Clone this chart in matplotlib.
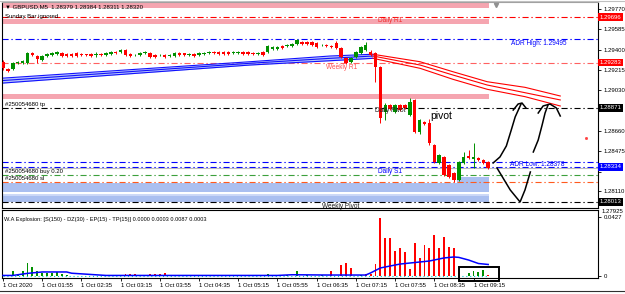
import matplotlib
matplotlib.use("Agg")
import matplotlib.pyplot as plt
from matplotlib.patches import Rectangle
from matplotlib.lines import Line2D

plt.rcParams['font.family'] = ['Liberation Sans', 'DejaVu Sans']

# GBPUSD M5 candles, first bar 01:15, bar index 0..99
opens = [1.29288, 1.29224, 1.29224, 1.29278, 1.29278, 1.29278, 1.29369, 1.29342, 1.29306, 1.29342,
         1.29351, 1.29360, 1.29369, 1.29360, 1.29360, 1.29369, 1.29360, 1.29360, 1.29360, 1.29351,
         1.29360, 1.29351, 1.29360, 1.29379, 1.29379, 1.29397, 1.29360, 1.29349, 1.29351, 1.29369,
         1.29369, 1.29351, 1.29349, 1.29351, 1.29342, 1.29342, 1.29369, 1.29369, 1.29351, 1.29360,
         1.29351, 1.29360, 1.29369, 1.29379, 1.29379, 1.29379, 1.29379, 1.29369, 1.29369, 1.29379,
         1.29379, 1.29369, 1.29360, 1.29379, 1.29379, 1.29406, 1.29406, 1.29433, 1.29433, 1.29433,
         1.29451, 1.29470, 1.29470, 1.29470, 1.29460, 1.29440, 1.29442, 1.29433, 1.29460, 1.29415,
         1.29324, 1.29288, 1.29333, 1.29369, 1.29397, 1.29379, 1.29369, 1.29242, 1.28832, 1.28896,
         1.28832, 1.28896, 1.28896, 1.28805, 1.28942, 1.28650, 1.28741, 1.28732, 1.28532, 1.28368,
         1.28423, 1.28350, 1.28277, 1.28213, 1.28368, 1.28432, 1.28404, 1.28413, 1.28395, 1.28379]
closes = [1.29233, 1.29206, 1.29278, 1.29288, 1.29297, 1.29369, 1.29351, 1.29315, 1.29342, 1.29360,
          1.29369, 1.29379, 1.29342, 1.29342, 1.29342, 1.29342, 1.29351, 1.29351, 1.29342, 1.29360,
          1.29351, 1.29369, 1.29379, 1.29369, 1.29397, 1.29351, 1.29342, 1.29353, 1.29369, 1.29379,
          1.29333, 1.29333, 1.29353, 1.29333, 1.29351, 1.29369, 1.29351, 1.29351, 1.29360, 1.29342,
          1.29369, 1.29369, 1.29379, 1.29369, 1.29360, 1.29360, 1.29360, 1.29379, 1.29379, 1.29360,
          1.29360, 1.29360, 1.29369, 1.29351, 1.29433, 1.29424, 1.29424, 1.29415, 1.29442, 1.29451,
          1.29488, 1.29451, 1.29451, 1.29442, 1.29424, 1.29444, 1.29433, 1.29424, 1.29415, 1.29333,
          1.29278, 1.29324, 1.29379, 1.29424, 1.29442, 1.29351, 1.29242, 1.28778, 1.28896, 1.28860,
          1.28896, 1.28850, 1.28869, 1.28923, 1.28650, 1.28759, 1.28723, 1.28550, 1.28377, 1.28441,
          1.28259, 1.28240, 1.28213, 1.28377, 1.28423, 1.28413, 1.28423, 1.28395, 1.28368, 1.28320]
highs = [1.29306, 1.29233, 1.29288, 1.29297, 1.29306, 1.29379, 1.29379, 1.29351, 1.29351, 1.29369,
         1.29379, 1.29388, 1.29379, 1.29369, 1.29369, 1.29379, 1.29369, 1.29360, 1.29369, 1.29379,
         1.29369, 1.29379, 1.29388, 1.29388, 1.29406, 1.29406, 1.29369, 1.29360, 1.29379, 1.29388,
         1.29379, 1.29360, 1.29360, 1.29360, 1.29360, 1.29379, 1.29379, 1.29369, 1.29369, 1.29369,
         1.29379, 1.29379, 1.29388, 1.29388, 1.29388, 1.29388, 1.29388, 1.29388, 1.29388, 1.29388,
         1.29388, 1.29379, 1.29379, 1.29388, 1.29442, 1.29433, 1.29433, 1.29442, 1.29451, 1.29460,
         1.29497, 1.29479, 1.29479, 1.29479, 1.29470, 1.29451, 1.29451, 1.29442, 1.29479, 1.29424,
         1.29333, 1.29333, 1.29388, 1.29433, 1.29470, 1.29397, 1.29379, 1.29251, 1.28914, 1.28905,
         1.28905, 1.28905, 1.28905, 1.28960, 1.28951, 1.28769, 1.28750, 1.28769, 1.28541, 1.28450,
         1.28432, 1.28359, 1.28286, 1.28386, 1.28468, 1.28486, 1.28550, 1.28423, 1.28404, 1.28384]
lows = [1.29215, 1.29196, 1.29215, 1.29269, 1.29269, 1.29269, 1.29342, 1.29278, 1.29297, 1.29333,
        1.29342, 1.29351, 1.29333, 1.29333, 1.29333, 1.29333, 1.29342, 1.29342, 1.29333, 1.29333,
        1.29342, 1.29342, 1.29351, 1.29360, 1.29369, 1.29342, 1.29333, 1.29342, 1.29342, 1.29360,
        1.29324, 1.29324, 1.29342, 1.29324, 1.29333, 1.29333, 1.29342, 1.29342, 1.29342, 1.29333,
        1.29342, 1.29351, 1.29360, 1.29360, 1.29351, 1.29351, 1.29351, 1.29360, 1.29360, 1.29351,
        1.29351, 1.29351, 1.29351, 1.29342, 1.29369, 1.29397, 1.29397, 1.29406, 1.29424, 1.29424,
        1.29442, 1.29442, 1.29442, 1.29433, 1.29415, 1.29433, 1.29424, 1.29415, 1.29406, 1.29324,
        1.29269, 1.29278, 1.29324, 1.29360, 1.29388, 1.29342, 1.29105, 1.28732, 1.28759, 1.28850,
        1.28823, 1.28841, 1.28860, 1.28796, 1.28641, 1.28632, 1.28714, 1.28532, 1.28368, 1.28359,
        1.28249, 1.28231, 1.28195, 1.28204, 1.28359, 1.28404, 1.28322, 1.28386, 1.28359, 1.28311]

time_pos = [0, 8, 16, 24, 32, 40, 48, 56, 64, 72, 80, 88, 96]
time_labels = ["1 Oct 2020", "1 Oct 01:55", "1 Oct 02:35", "1 Oct 03:15", "1 Oct 03:55",
               "1 Oct 04:35", "1 Oct 05:15", "1 Oct 05:55", "1 Oct 06:35", "1 Oct 07:15",
               "1 Oct 07:55", "1 Oct 08:35", "1 Oct 09:15"]

# scale labels (the ones under the price tags are hidden)
price_ticks = [1.29770, 1.29585, 1.29400, 1.29215, 1.29030, 1.28845, 1.28660, 1.28475, 1.28290, 1.28110]
hidden_ticks = [1.28845, 1.28290]

# horizontal levels: price, colour
level_prices = [1.29696, 1.29495, 1.29283, 1.28871, 1.28378, 1.28334, 1.28254, 1.28195, 1.28013]
level_colors = ["#ff0000", "#0000ff", "#ff6060", "#000000", "#0000ff", "#0000ff", "#3ca03c", "#ff5a1e", "#000000"]
bid_price = 1.28320

# price tags on the right scale
tag_prices = [1.29696, 1.29283, 1.28871, 1.28334, 1.28013]
tag_colors = ["#ff0000", "#ff0000", "#000000", "#0000ff", "#000000"]

# supply / demand rectangles (they end at the current bar)
pink_lo = [1.29779, 1.29633, 1.28951]
pink_hi = [1.29830, 1.29679, 1.28996]
blue_lo = [1.28104, 1.28013, 1.28186]
blue_hi = [1.28186, 1.28095, 1.28240]
blue_start = [-1, -1, 92.7]
zone_end = 99.2

# moving average bands
ma_blue_x = [-0.6, 50.4, 66.7, 75.5]
ma_blue_a = [1.29139, 1.29290, 1.29342, 1.29358]
ma_blue_b = [1.29117, 1.29276, 1.29321, 1.29342]
ma_blue_c = [1.29094, 1.29260, 1.29299, 1.29321]
ma_red_x = [75.5, 85.1, 91.8, 98.8, 106.5, 113.7]
ma_red_a = [1.29358, 1.29290, 1.29199, 1.29108, 1.29057, 1.28978]
ma_red_b = [1.29342, 1.29260, 1.29169, 1.29078, 1.29008, 1.28942]
ma_red_c = [1.29321, 1.29230, 1.29130, 1.29039, 1.28972, 1.28887]

# hand drawn scribbles
arrow1_x = [100.0, 101.4, 102.7, 103.7, 104.5, 105.7]
arrow1_y = [1.28368, 1.28423, 1.28523, 1.28668, 1.28787, 1.28905]
head1_x = [104.1, 105.1, 105.9, 106.7]
head1_y = [1.28850, 1.28905, 1.28914, 1.28869]
arrow2_x = [108.2, 109.2, 110.0, 110.6, 111.2]
arrow2_y = [1.28468, 1.28577, 1.28714, 1.28823, 1.28896]
head2_x = [109.2, 110.2, 111.6, 112.9, 113.7]
head2_y = [1.28823, 1.28887, 1.28905, 1.28869, 1.28796]
vee_x = [100.8, 103.5, 105.5, 106.5, 107.6]
vee_y = [1.28322, 1.28122, 1.28013, 1.28122, 1.28286]

# W.A Explosion indicator
green_idx = [2, 3, 4, 5, 6, 7, 8, 9, 10, 11, 12, 13, 54, 56, 58, 60, 62, 65, 73, 95, 96, 97, 98]
green_val = [0.0038, 0.0017, 0.0034, 0.0091, 0.0063, 0.0034, 0.0025, 0.0025, 0.0025, 0.0030, 0.0012,
             0.0005, 0.0012, 0.0005, 0.0009, 0.0036, 0.0005, 0.0005, 0.0010, 0.0025, 0.0035, 0.0030, 0.0040]
red_idx = [25, 26, 27, 30, 31, 32, 33, 34, 49, 50, 67, 69, 70, 71, 74, 75, 76, 77, 78, 79, 80, 81,
           82, 83, 84, 85, 86, 87, 88, 89, 90, 91, 92, 99]
red_val = [0.0012, 0.0017, 0.0017, 0.0017, 0.0012, 0.0012, 0.0020, 0.0005, 0.0005, 0.0005, 0.0036,
           0.0079, 0.0096, 0.0060, 0.0012, 0.0012, 0.0084, 0.0415, 0.0271, 0.0276, 0.0180, 0.0204,
           0.0175, 0.0050, 0.0235, 0.0127, 0.0223, 0.0199, 0.0295, 0.0199, 0.0279, 0.0207, 0.0199, 0.0010]
line_idx = [0, 2, 5, 8, 13, 14, 21, 56, 59, 66, 74, 75, 77, 79, 81, 87, 90, 92, 93, 95, 97, 99]
line_val = [0.0004, 0.0004, 0.0019, 0.0029, 0.0029, 0.0020, 0.0004, 0.0004, 0.0009, 0.0007, 0.0007,
            0.0022, 0.0058, 0.0072, 0.0086, 0.0108, 0.0130, 0.0137, 0.0134, 0.0115, 0.0090, 0.0083]
cyan_level = 0.0002

DD = (5.5, 2.5, 1.2, 2.5)
FS = 4.3

fig = plt.figure(figsize=(6.25, 2.94), dpi=100)
ax = fig.add_axes([2 / 625, 1 - 208 / 294, 596 / 625, 206 / 294])
ax2 = fig.add_axes([2 / 625, 1 - 278 / 294, 596 / 625, 68 / 294])

# zones
for lo, hi in zip(pink_lo, pink_hi):
    ax.add_patch(Rectangle((-1, lo), zone_end + 1, hi - lo, color="#f5a5b0", lw=0, zorder=0))
for x0, lo, hi in zip(blue_start, blue_lo, blue_hi):
    ax.add_patch(Rectangle((x0, lo), zone_end - x0, hi - lo, color="#aabff0", lw=0, zorder=0))
ax.add_patch(Rectangle((-1, 1.28067), zone_end + 1, 1.28095 - 1.28067, color="#cbd7f7", lw=0, zorder=0))
ax.hlines(1.28099, -1, zone_end, color="white", lw=0.8, zorder=0)

# levels
for p, c in zip(level_prices, level_colors):
    ax.axhline(p, color=c, lw=0.8, dashes=DD, zorder=1)
ax.axhline(bid_price, color="#bdbdbd", lw=0.8, zorder=1)

# moving averages
ax.fill_between(ma_blue_x, ma_blue_c, ma_blue_a, color="#9fb3f5", alpha=0.7, lw=0, zorder=1)
for ys in (ma_blue_a, ma_blue_b, ma_blue_c):
    ax.plot(ma_blue_x, ys, color="#1010ff", lw=0.8, zorder=2)
for ys in (ma_red_a, ma_red_b, ma_red_c):
    ax.plot(ma_red_x, ys, color="#ff0000", lw=0.8, zorder=2)

# candles
idx = list(range(len(opens)))
cols = ["#009000" if c >= o else "#ff0000" for o, c in zip(opens, closes)]
ax.vlines(idx, lows, highs, colors=cols, lw=0.7, zorder=3)
bottoms = [min(o, c) for o, c in zip(opens, closes)]
heights = [max(abs(c - o), 0.00004) for o, c in zip(opens, closes)]
ax.bar(idx, heights, bottom=bottoms, width=0.72, color=cols, lw=0, zorder=3)

# scribbles
for xs, ys in ((arrow1_x, arrow1_y), (head1_x, head1_y), (arrow2_x, arrow2_y),
               (head2_x, head2_y), (vee_x, vee_y)):
    ax.plot(xs, ys, color="black", lw=1.1, zorder=4)
ax.plot([119.0], [1.28595], marker="s", ms=1.0, color="#ff4040", lw=0, zorder=4)
ax.plot([100.5], [1.29806], marker="v", ms=3, color="#909090", lw=0, zorder=4)

# labels in chart
ax.text(0.005, 0.987, "\u25bc GBPUSD,M5  1.28379 1.28384 1.28311 1.28320", transform=ax.transAxes,
        fontsize=FS, va="top", ha="left", zorder=5)
ax.text(0.005, 0.932, "Sunday Bar ignored", transform=ax.transAxes, fontsize=FS, va="center", zorder=5)
ax.text(76.5, 1.29670, "Daily R1", color="#f03030", fontsize=4.7, va="center", zorder=5)
ax.text(103.7, 1.29460, "ADR High: 1.29495", color="#0000ff", fontsize=4.7, va="center", zorder=5)
ax.text(65.9, 1.29242, "Weekly R1", color="#ff5050", fontsize=4.7, va="center", zorder=5)
ax.text(75.9, 1.28850, "Daily Pivot", color="#202020", fontsize=4.7, va="center", zorder=5)
ax.text(87.1, 1.28796, "pivot", color="black", fontsize=7.5, va="center", zorder=5)
ax.text(0.4, 1.28905, "#250054680 tp", fontsize=FS, va="center", zorder=5)
ax.text(103.5, 1.28350, "ADR Low: 1.28378", color="#0000ff", fontsize=4.7, va="center", zorder=5)
ax.text(76.5, 1.28286, "Daily S1", color="#0000ff", fontsize=4.7, va="center", zorder=5)
ax.text(0.4, 1.28291, "#250054680 buy 0.20", fontsize=FS, va="center", zorder=5)
ax.text(0.4, 1.28231, "#250054680 sl", fontsize=FS, va="center", zorder=5)
ax.text(65.1, 1.27976, "Weekly Pivot", color="#202020", fontsize=4.7, va="center", zorder=5)

ax.set_xlim(-0.2, 121.4)
ax.set_ylim(1.27958, 1.29834)
ax.set_xticks([])
ax.yaxis.tick_right()
ax.set_yticks(price_ticks)
ax.set_yticklabels(["" if p in hidden_ticks else "%.5f" % p for p in price_ticks])
ax.tick_params(axis="y", direction="out", length=2.5, width=0.6, pad=1.5, labelsize=FS)
ax.text(1.006, 1.27925, "1.27925", transform=ax.get_yaxis_transform(), fontsize=FS,
        va="center", ha="left", clip_on=False)
ytr = ax.get_yaxis_transform()
for p, c in zip(tag_prices, tag_colors):
    ax.text(1.003, p, "%.5f" % p, transform=ytr, fontsize=FS, color="white", va="center", ha="left",
            clip_on=False, zorder=6,
            bbox=dict(boxstyle="square,pad=0.25", fc=c, ec="none"))
for s in ax.spines.values():
    s.set_linewidth(0.8)
ax.spines["top"].set_color("#a0a0a0")

# indicator panel
ax2.bar(green_idx, green_val, width=0.4, color="#009000", lw=0, zorder=2)
ax2.bar(red_idx, red_val, width=0.4, color="#ff0000", lw=0, zorder=2)
ax2.hlines(cyan_level, 0, 99, color="#00c8c8", lw=0.8, linestyles=(0, (1, 2.5)), zorder=1)
ax2.plot(line_idx, line_val, color="#0000ff", lw=1.1, zorder=3)
ax2.add_patch(Rectangle((93.1, -0.0036), 8.1, 0.0101, fill=False, ec="black", lw=1.4,
                        clip_on=False, zorder=4))
ax2.text(0.004, 0.853, "W.A Explosion: [S(150) - DZ(30) - EP(15) - TP(15)] 0.0000 0.0003 0.0087 0.0003",
         transform=ax2.transAxes, fontsize=4.1, va="center", ha="left")
ax2.set_xlim(-0.2, 121.4)
ax2.set_ylim(-0.00144, 0.04752)
ax2.yaxis.tick_right()
ax2.set_yticks([0.0427, 0])
ax2.set_yticklabels(["0.0427", "0"])
ax2.tick_params(axis="y", direction="out", length=2.5, width=0.6, pad=1.5, labelsize=FS)
ax2.set_xticks(time_pos)
ax2.set_xticklabels(time_labels)
ax2.tick_params(axis="x", direction="out", length=2.5, width=0.6, pad=1, labelsize=FS)
for lab in ax2.get_xticklabels():
    lab.set_ha("left")
for s in ax2.spines.values():
    s.set_linewidth(0.8)

# window bottom border
fig.add_artist(Line2D([0, 1], [3 / 294, 3 / 294], color="#303030", lw=0.8))
fig.add_artist(Line2D([0, 1], [293.5 / 294, 293.5 / 294], color="#c0c0c0", lw=0.8))

fig.savefig("out.png", dpi=100)
